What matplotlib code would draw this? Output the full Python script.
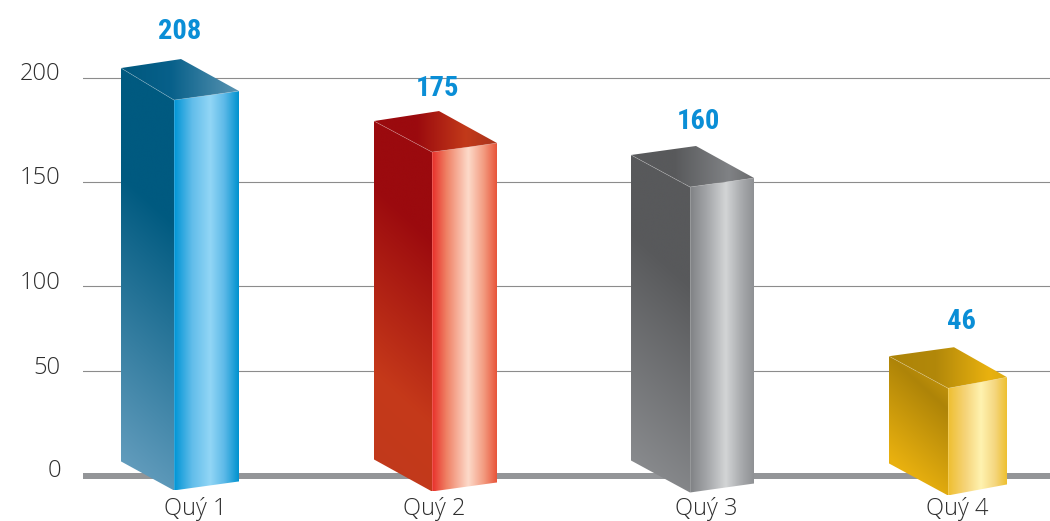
import numpy as np
import matplotlib
matplotlib.use("Agg")
import matplotlib.pyplot as plt
from matplotlib.colors import LinearSegmentedColormap
from matplotlib.patches import Polygon
from matplotlib.ticker import NullLocator
from matplotlib.transforms import Affine2D, IdentityTransform

W, H = 1050, 521

# ---- data ----
quarters = ["Quý 1", "Quý 2", "Quý 3", "Quý 4"]
values = [208, 175, 160, 46]               # printed values
bar_tops = [189.4, 164.4, 147.6, 41.8]     # height of the front corner as drawn against the axis
bar_bases = [-6.9, -7.4, -7.9, -9.3]       # foot of the front corner as drawn
y_ticks = [0, 50, 100, 150, 200]
y_tick_labels = ["0", "50", "100", "150", "200"]

# the printed axis is not evenly spaced: tick value -> pixel height above the baseline
scale_vals = [-25, 0, 50, 100, 150, 200, 237.5]
scale_px = [-52.25, 0, 105, 190, 294, 398, 476]

# ---- style ----
left_off = [(-53, 32), (-58, 31), (-59, 32), (-59, 32)]
peak_off = [(7, 41), (7, 41), (6, 41), (6, 41)]
right_off = [(65, 9), (65, 9), (64, 9), (59, 11)]
base_left_rise = [29, 32, 32, 32]
label_off = [(6, 28), (5, 23), (8, 24), (13, 26)]
xlabel_shift = [21, 2, 16, 9]
ylabel_shift = [-1, -3, -3, -2.5, -2.5]

LEFT = [
    [(0, "#005a80"), (.33, "#005a80"), (1, "#6ba2c2")],
    [(0, "#9b0a0e"), (.28, "#9b0a0e"), (.72, "#c5391a"), (1, "#c03a1c")],
    [(0, "#58595b"), (.33, "#58595b"), (1, "#8f9194")],
    [(0, "#d8a40f"), (.28, "#ae8408"), (.8, "#e8b00f"), (1, "#eab30f")],
]
RIGHT = [
    [(0, "#0095d6"), (.28, "#62bdea"), (.56, "#92d6f6"), (.78, "#5cb9e8"), (1, "#0092cf")],
    [(0, "#e8302a"), (.22, "#ef8064"), (.56, "#fddaca"), (.8, "#f39b80"), (1, "#e8553a")],
    [(0, "#808285"), (.3, "#a9abae"), (.56, "#d3d5d6"), (.8, "#a9abae"), (1, "#8f9194")],
    [(0, "#efbf30"), (.3, "#f6d47a"), (.56, "#fff3b0"), (.8, "#f5d67f"), (1, "#eec030")],
]
TOP = [
    [(0, "#00587e"), (.42, "#07608a"), (1, "#5a94b2")],
    [(0, "#9b0a0e"), (.35, "#9b0a0e"), (.75, "#c23a1a"), (1, "#a9341c")],
    [(0, "#58595b"), (.35, "#58595b"), (.8, "#808285"), (1, "#6a6b6d")],
    [(0, "#ad8408"), (.4, "#b2880a"), (.85, "#e9b10f"), (1, "#dcab12")],
]
GRID = "#8c8c8c"
BASE = "#939598"
BLUE = "#0a8ed6"
TEXT = "#2e2e2e"

plt.rcParams["font.family"] = ["Open Sans", "DejaVu Sans"]

fig = plt.figure(figsize=(W / 100, H / 100), dpi=100, facecolor="white")
ax = fig.add_axes([83 / W, (H - 476) / H, (W - 83) / W, 476 / H])
ax.set_facecolor("none")
ax.set_yscale("function", functions=(
    lambda v: np.interp(v, scale_vals, scale_px),
    lambda p: np.interp(p, scale_px, scale_vals),
))
ax.set_ylim(0, 237.5)
ax.set_xlim((83 - 174) / 258, (W - 174) / 258)
ax.autoscale(False)

for s in ("top", "right", "left"):
    ax.spines[s].set_visible(False)
ax.spines["bottom"].set_color(BASE)
ax.spines["bottom"].set_linewidth(6 * 0.72)
ax.spines["bottom"].set_capstyle("butt")
ax.set_axisbelow(True)
ax.grid(axis="y", color=GRID, lw=0.8)
ax.tick_params(length=0)
ax.tick_params(axis="y", pad=16)
ax.tick_params(axis="x", pad=28)
ax.set_yticks(y_ticks, y_tick_labels)
ax.set_xticks(range(len(quarters)), quarters)
ax.yaxis.set_minor_locator(NullLocator())


def gradient_face(verts, stops, mode):
    verts = np.array(verts, float)
    x0, y0 = verts.min(axis=0)
    x1, y1 = verts.max(axis=0)
    xx, yy = np.meshgrid(np.linspace(0, 1, 200), np.linspace(0, 1, 400))
    if mode == "x":
        t = xx
    else:  # diagonal, brightening towards the lower left
        w, h = x1 - x0, y1 - y0
        t = yy * h + (1 - xx) * w * 0.9
        t = t / t.max()
    cmap = LinearSegmentedColormap.from_list("g", stops)
    im = ax.imshow(t, cmap=cmap, vmin=0, vmax=1, extent=(x0, x1, y0, y1),
                   origin="upper", aspect="auto", interpolation="bilinear",
                   transform=IdentityTransform(), zorder=3)
    im.set_clip_box(fig.bbox)
    clip = Polygon(verts, closed=True, transform=IdentityTransform())
    im.set_clip_path(clip)


def edge(a, b, alpha=0.3):
    ax.plot([a[0], b[0]], [a[1], b[1]], color="white", lw=0.5, alpha=alpha,
            transform=IdentityTransform(), zorder=4, clip_on=False)


for i in range(len(quarters)):
    fx, fy = ax.transData.transform((i, bar_tops[i]))
    bx, by = ax.transData.transform((i, bar_bases[i]))
    ldx, ldy = left_off[i]
    pdx, pdy = peak_off[i]
    rdx, rdy = right_off[i]
    front = (fx, fy)
    tl = (fx + ldx, fy + ldy)
    tp = (fx + pdx, fy + pdy)
    tr = (fx + rdx, fy + rdy)
    bf = (bx, by)
    bl = (bx + ldx, by + base_left_rise[i])
    br = (bx + rdx, by + rdy)

    gradient_face([tl, front, bf, bl], LEFT[i], "diag")
    gradient_face([front, tr, br, bf], RIGHT[i], "x")
    gradient_face([tl, tp, tr, front], TOP[i], "x")
    edge(tl, front)
    edge(front, bf, 0.25)
    edge(front, tr, 0.2)

    ax.annotate(str(values[i]), xy=(tp[0], tp[1]), xycoords=IdentityTransform(),
                xytext=(label_off[i][0] - pdx, label_off[i][1]),
                textcoords="offset pixels", ha="center", va="center",
                color=BLUE, fontsize=20.5, fontweight="bold",
                family=["Roboto Condensed", "DejaVu Sans"], zorder=5)

ax.figure.canvas.draw()
for lbl, dy in zip(ax.get_yticklabels(), ylabel_shift):
    lbl.set_verticalalignment("baseline")
    lbl.set_fontsize(17)
    lbl.set_fontweight(300)
    lbl.set_color(TEXT)
    lbl.set_transform(lbl.get_transform() + Affine2D().translate(0, dy))
for lbl, dx in zip(ax.get_xticklabels(), xlabel_shift):
    lbl.set_verticalalignment("baseline")
    lbl.set_fontsize(17)
    lbl.set_fontweight(300)
    lbl.set_color(TEXT)
    lbl.set_transform(lbl.get_transform() + Affine2D().translate(dx, 0))

fig.savefig("out.png", dpi=100, facecolor="white")
